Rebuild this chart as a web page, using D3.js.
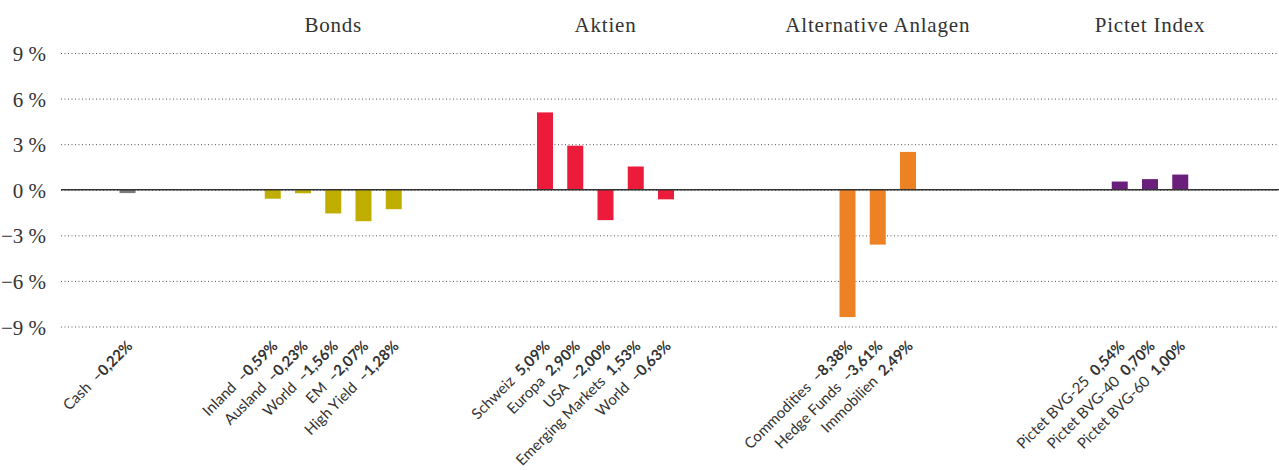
<!DOCTYPE html>
<html>
<head>
<meta charset="utf-8">
<script src="https://cdn.jsdelivr.net/npm/d3@7"></script>
<style>
  body { margin: 0; background: #fff; }
</style>
</head>
<body>
<div id="chart"></div>
<script>
// data
const groupNames = ["", "Bonds", "Aktien", "Alternative Anlagen", "Pictet Index"];
const cashNames = ["Cash"];
const cashValues = [-0.22];
const bondNames = ["Inland", "Ausland", "World", "EM", "High Yield"];
const bondValues = [-0.59, -0.23, -1.56, -2.07, -1.28];
const equityNames = ["Schweiz", "Europa", "USA", "Emerging Markets", "World"];
const equityValues = [5.09, 2.90, -2.00, 1.53, -0.63];
const altNames = ["Commodities", "Hedge Funds", "Immobilien"];
const altValues = [-8.38, -3.61, 2.49];
const pictetNames = ["Pictet BVG-25", "Pictet BVG-40", "Pictet BVG-60"];
const pictetValues = [0.54, 0.70, 1.00];
const yTicks = [-9, -6, -3, 0, 3, 6, 9];
const groupColors = ["#7b7b7b", "#bfae00", "#ec1b3a", "#ec8224", "#6b1f7c"];

function c1() {
    const width = 1279, height = 470;
    const margin = {l: 61, r: 0, t: 53, b: 144};
    const slotW = 30.25;

    let svg = d3.select("#chart").append("svg")
        .attr("width", width)
        .attr("height", height);

    const lists = [
        [cashNames, cashValues], [bondNames, bondValues], [equityNames, equityValues],
        [altNames, altValues], [pictetNames, pictetValues]
    ];
    // first slot of each group (cash sits on its own)
    const groupStart = [2.2, 7, 16, 26, 35];

    let rows = [];
    lists.forEach(function(l, gi) {
        l[0].forEach(function(n, i) {
            rows.push({group: gi, name: n, value: l[1][i], slot: groupStart[gi] + i});
        });
    });

    let x = d3.scaleLinear().domain([0, (width - margin.l) / slotW]).range([margin.l, width]);
    let y = d3.scaleLinear().domain([-9, 9]).range([height - margin.b + 0.5, margin.t]);

    // gridlines
    let axisY = d3.axisLeft(y).tickValues(yTicks)
        .tickSize(-(width - margin.l))
        .tickFormat(function(d) { return (d < 0 ? "\u2212" : "") + Math.abs(d) + " %"; });
    let gy = svg.append("g")
        .attr("transform", `translate(${margin.l},0)`)
        .call(axisY);
    gy.select(".domain").remove();
    gy.selectAll(".tick line")
        .attr("stroke", "#555")
        .attr("stroke-dasharray", "1,2.5")
        .attr("stroke-width", 1);
    gy.selectAll(".tick text")
        .attr("x", -15)
        .attr("dy", "0.36em")
        .attr("fill", "#333")
        .style("font-family", "'Liberation Serif', serif")
        .style("font-size", "21px");

    // group headings
    groupNames.forEach(function(g, gi) {
        if (!g) return;
        let n = lists[gi][0].length;
        svg.append("text")
            .attr("x", x(groupStart[gi] + (n - 1) / 2))
            .attr("y", 32)
            .attr("text-anchor", "middle")
            .attr("fill", "#333")
            .style("font-family", "'Liberation Serif', serif")
            .style("font-size", "21px")
            .style("letter-spacing", "0.8px")
            .text(g);
    });

    // bars
    const barW = 16;
    svg.selectAll("rect.bar")
        .data(rows)
        .enter().append("rect")
        .attr("class", "bar")
        .attr("x", function(d) { return x(d.slot) - barW / 2; })
        .attr("y", function(d) { return y(Math.max(0, d.value)); })
        .attr("width", barW)
        .attr("height", function(d) { return Math.abs(y(d.value) - y(0)); })
        .attr("fill", function(d) { return groupColors[d.group]; });

    // zero line
    svg.append("line")
        .attr("x1", margin.l).attr("x2", width)
        .attr("y1", y(0)).attr("y2", y(0))
        .attr("stroke", "#333")
        .attr("stroke-width", 1.5);

    // rotated category labels
    const fmt = function(v) {
        return (v < 0 ? "\u2013" : "") + Math.abs(v).toFixed(2).replace(".", ",") + "%";
    };
    let labels = svg.selectAll("text.cat")
        .data(rows)
        .enter().append("text")
        .attr("class", "cat")
        .attr("text-anchor", "end")
        .attr("transform", function(d) { return `translate(${x(d.slot) + 6},${height - margin.b + 21}) rotate(-45)`; })
        .attr("fill", "#333")
        .style("font-family", "Lato, sans-serif")
        .style("font-size", "15px");
    labels.append("tspan").text(function(d) { return d.name; });
    labels.append("tspan").attr("dx", 8).attr("font-weight", 700).text(function(d) { return fmt(d.value); });
}

c1();
</script>
</body>
</html>
